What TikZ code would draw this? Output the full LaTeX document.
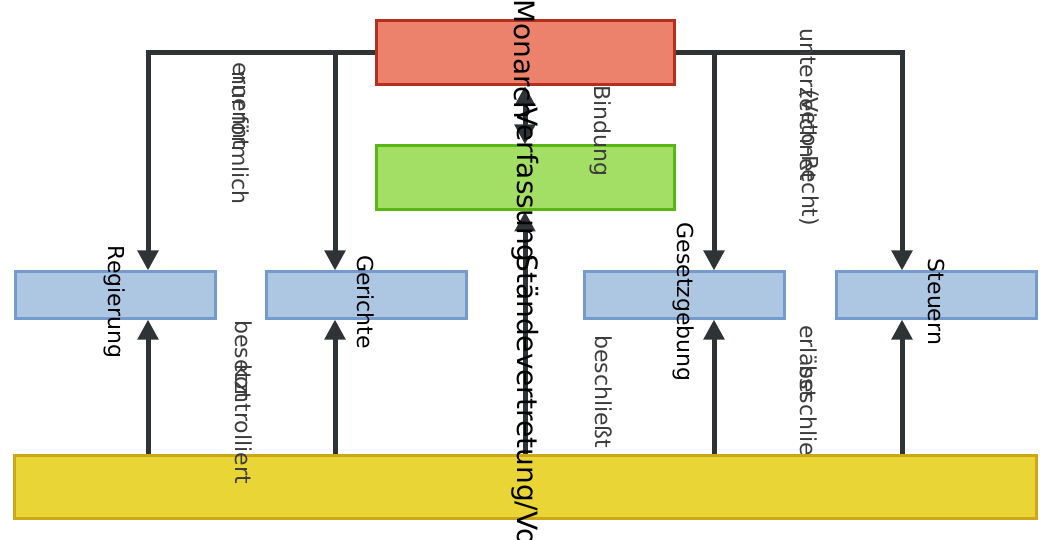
\documentclass[tikz,border=0pt]{standalone}
\usepackage{fontspec}
\setmainfont{DejaVu Sans}
\usetikzlibrary{arrows.meta}
\pgfdeclarelayer{bg}
\pgfsetlayers{bg,main}
\definecolor{monfill}{RGB}{237,130,108}
\definecolor{mondraw}{RGB}{181,48,28}
\definecolor{verfill}{RGB}{163,223,100}
\definecolor{verdraw}{RGB}{90,182,20}
\definecolor{orgfill}{RGB}{173,199,227}
\definecolor{orgdraw}{RGB}{117,155,205}
\definecolor{volfill}{RGB}{233,214,54}
\definecolor{voldraw}{RGB}{204,168,24}
\definecolor{linkgray}{RGB}{46,52,54}
\definecolor{labelgray}{RGB}{60,60,60}

\begin{document}
\begin{tikzpicture}[x=1pt,y=-1pt,
    organ/.style={draw=orgdraw, fill=orgfill, line width=3pt, inner sep=0pt,
    minimum width=200pt, minimum height=46pt,
    label={[rotate=-90, inner sep=0pt, xshift=7pt, font=\fontsize{22}{26}\selectfont]center:#1}},
    power/.style={line width=3pt, inner sep=0pt, minimum width=298pt, minimum height=64pt,
    label={[rotate=-90, inner sep=0pt, xshift=7pt, font=\fontsize{28}{32}\selectfont]center:#1}},
    elabel/.style={rotate=-90, anchor=west, inner sep=0pt, yshift=4pt, text=labelgray,
    font=\fontsize{22}{26}\selectfont},
    link/.style={line width=5pt, draw=linkgray, -{Triangle[length=20pt,width=20pt]}},
    both/.style={link, {Triangle[length=20pt,width=20pt]}-{Triangle[length=20pt,width=20pt]}}
]
  \useasboundingbox (0,0) rectangle (1050,540);

  \node[power=Monarch, draw=mondraw, fill=monfill] (mon) at (525,52.5) {};
  \node[power=Verfassung, draw=verdraw, fill=verfill] (ver) at (525,178) {};
  \node[organ=Regierung] (reg) at (115,295) {};
  \node[organ=Gerichte] (ger) at (366,295) {};
  \node[organ=Gesetzgebung] (ges) at (684,295) {};
  \node[organ=Steuern] (ste) at (936,295) {};
  \node[power=Ständevertretung/Volksvertretung, draw=voldraw, fill=volfill,
    minimum width=1022pt, minimum height=63pt] (vol) at (525,486.5) {};

  \begin{pgfonlayer}{bg}
  \draw[link] (mon.west) -| ([xshift=33pt]reg.north);
  \draw[link] (mon.west) -| ([xshift=-31pt]ger.north);
  \draw[link] (mon.east) -| ([xshift=30pt]ges.north);
  \draw[link] (mon.east) -| ([xshift=-34pt]ste.north);
  \draw[both] (mon) -- (ver);
  \draw[link] (vol) -- (ver);
  \draw[link] ([xshift=33pt]reg.south |- vol.north) -- ([xshift=33pt]reg.south);
  \draw[link] ([xshift=-31pt]ger.south |- vol.north) -- ([xshift=-31pt]ger.south);
  \draw[link] ([xshift=30pt]ges.south |- vol.north) -- ([xshift=30pt]ges.south);
  \draw[link] ([xshift=-34pt]ste.south |- vol.north) -- ([xshift=-34pt]ste.south);
  \node[elabel] (erl) at (805,325) {erlässt};
  \node[elabel] (bes2) at (805,365) {beschließt};
  \end{pgfonlayer}

  \node[elabel] (ern) at (237,62) {ernennt};
  \node[elabel] (for) at (237,71) {nur förmlich};
  \node[elabel] (unt) at (805,28) {unterzeichnet};
  \node[elabel] (veto) at (805,89) {(Veto-Recht)};
  \node[elabel] (bin) at (597,85) {Bindung};
  \node[elabel] (bes) at (600,335) {beschließt};
  \node[elabel] (bst) at (240,320) {besetzt};
  \node[elabel] (kon) at (240,364) {kontrolliert};
\end{tikzpicture}
\end{document}
